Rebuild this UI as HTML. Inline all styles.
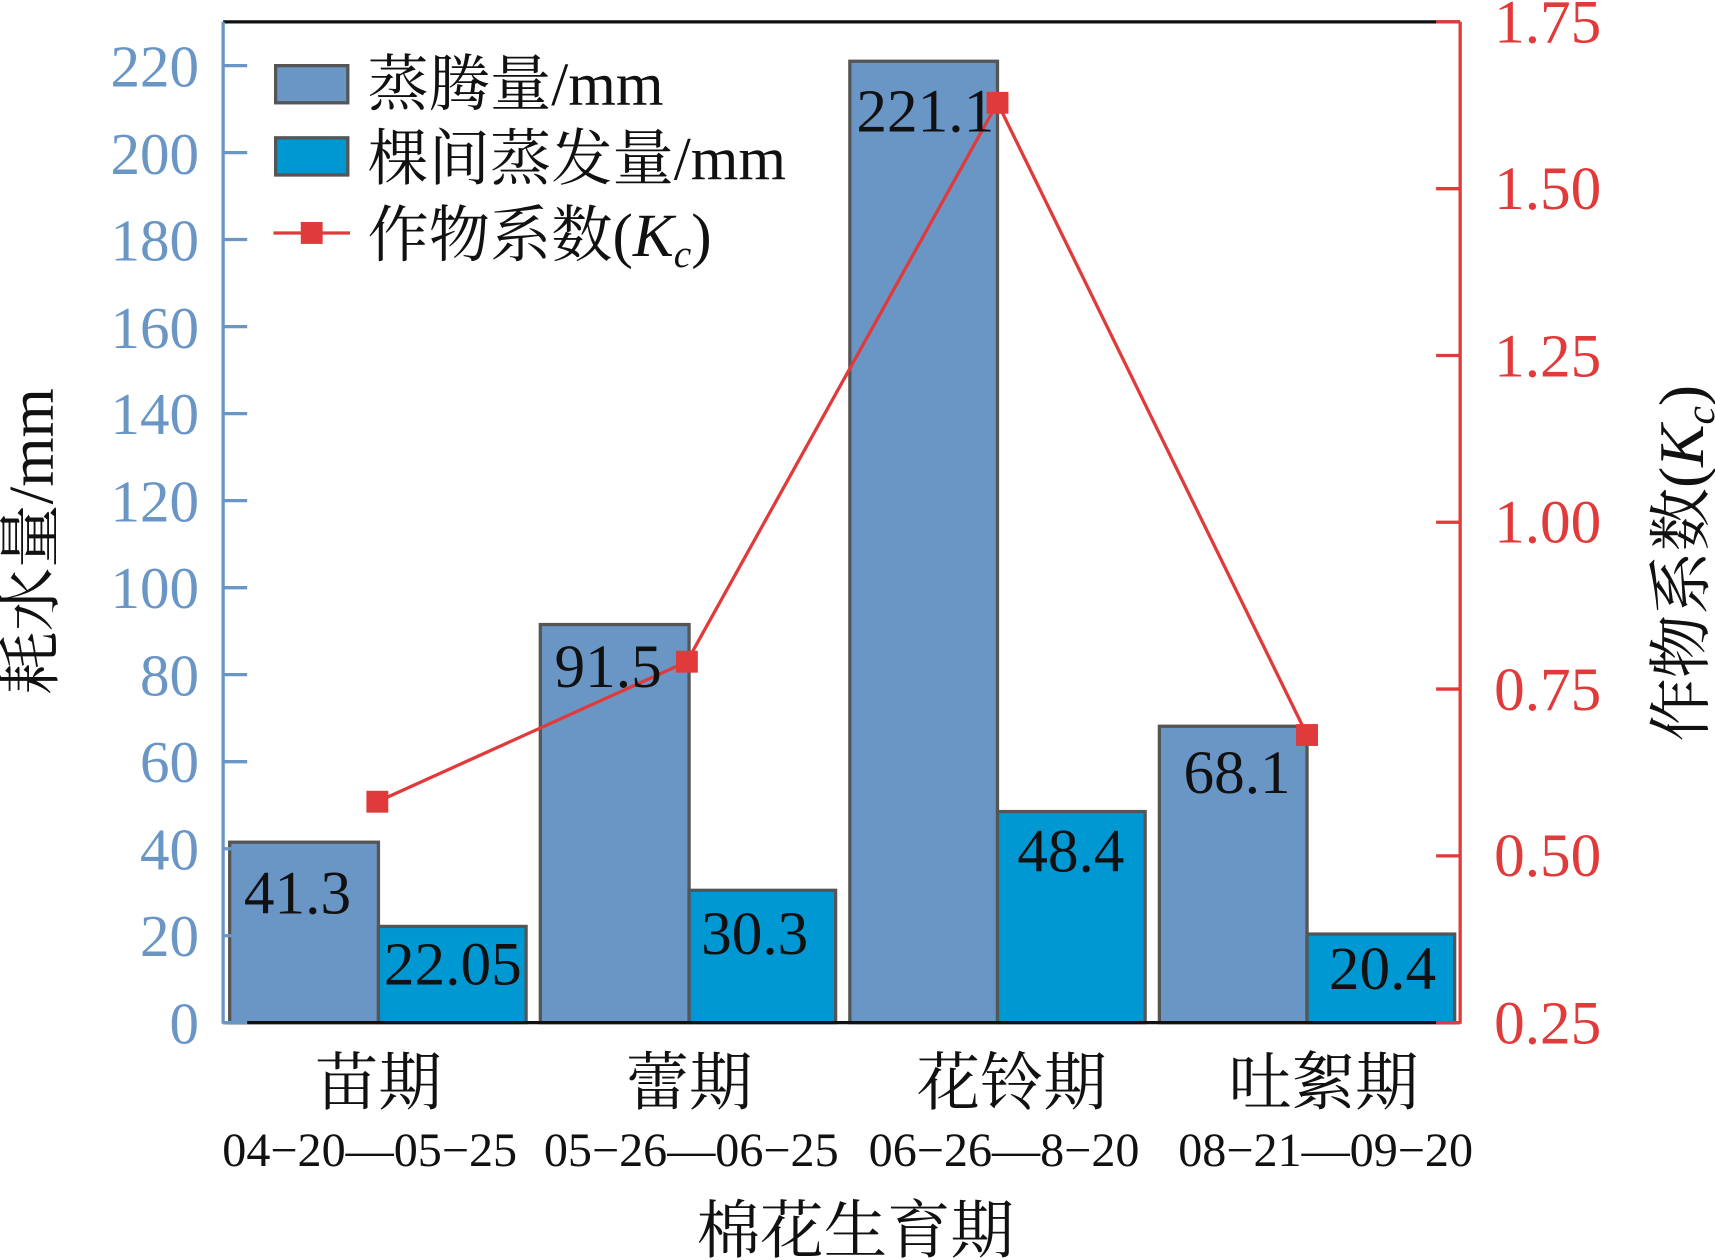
<!DOCTYPE html>
<html><head><meta charset="utf-8"><style>
html,body{margin:0;padding:0;background:#fff;}
svg{display:block;}
text{font-family:"Liberation Serif","Noto Serif CJK SC","Noto Sans CJK SC",serif;}
</style></head><body>
<svg width="1715" height="1260" viewBox="0 0 1568 1152" xmlns="http://www.w3.org/2000/svg">
<rect width="1568" height="1152" fill="#fff"/>
<g stroke="#555" stroke-width="3">
<rect x="210" y="770" width="136" height="165" fill="#6a96c6"/>
<rect x="346" y="847" width="135" height="88" fill="#0098d2"/>
<rect x="494" y="571" width="136" height="364" fill="#6a96c6"/>
<rect x="630" y="814" width="134" height="121" fill="#0098d2"/>
<rect x="777" y="56" width="135" height="879" fill="#6a96c6"/>
<rect x="912" y="742" width="135" height="193" fill="#0098d2"/>
<rect x="1060" y="664" width="135" height="271" fill="#6a96c6"/>
<rect x="1195" y="854" width="135" height="81" fill="#0098d2"/>
</g>
<line x1="204" y1="20" x2="1335" y2="20" stroke="#111" stroke-width="3"/>
<line x1="204" y1="935" x2="1335" y2="935" stroke="#111" stroke-width="3"/>
<line x1="204" y1="20" x2="204" y2="936" stroke="#6a96c6" stroke-width="3"/>
<line x1="1335" y1="20" x2="1335" y2="936" stroke="#e03a3a" stroke-width="3"/>
<g stroke="#6a96c6" stroke-width="3">
<line x1="204" y1="935" x2="226" y2="935"/><line x1="204" y1="855.5" x2="226" y2="855.5"/>
<line x1="204" y1="776" x2="226" y2="776"/><line x1="204" y1="696.4" x2="226" y2="696.4"/>
<line x1="204" y1="616.8" x2="226" y2="616.8"/><line x1="204" y1="537.3" x2="226" y2="537.3"/>
<line x1="204" y1="457.7" x2="226" y2="457.7"/><line x1="204" y1="378.2" x2="226" y2="378.2"/>
<line x1="204" y1="298.6" x2="226" y2="298.6"/><line x1="204" y1="219" x2="226" y2="219"/>
<line x1="204" y1="139.5" x2="226" y2="139.5"/><line x1="204" y1="60" x2="226" y2="60"/>
</g>
<g fill="#6a96c6" font-size="54" text-anchor="end">
<text x="182" y="954">0</text><text x="182" y="874">20</text><text x="182" y="795">40</text>
<text x="182" y="715">60</text><text x="182" y="636">80</text><text x="182" y="556">100</text>
<text x="182" y="477">120</text><text x="182" y="397">140</text><text x="182" y="318">160</text>
<text x="182" y="238">180</text><text x="182" y="159">200</text><text x="182" y="79">220</text>
</g>
<g stroke="#e03a3a" stroke-width="3">
<line x1="1313" y1="935" x2="1335" y2="935"/><line x1="1313" y1="782.5" x2="1335" y2="782.5"/>
<line x1="1313" y1="630" x2="1335" y2="630"/><line x1="1313" y1="477.5" x2="1335" y2="477.5"/>
<line x1="1313" y1="325" x2="1335" y2="325"/><line x1="1313" y1="172.5" x2="1335" y2="172.5"/>
<line x1="1313" y1="20" x2="1335" y2="20"/>
</g>
<g fill="#e03a3a" font-size="56">
<text x="1366" y="954">0.25</text><text x="1366" y="801">0.50</text><text x="1366" y="649">0.75</text>
<text x="1366" y="496">1.00</text><text x="1366" y="344">1.25</text><text x="1366" y="191">1.50</text>
<text x="1366" y="39">1.75</text>
</g>
<polyline points="345,733 628,605 912,94 1195,672" fill="none" stroke="#e03a3a" stroke-width="3"/>
<g fill="#e03a3a">
<rect x="335" y="723" width="20" height="20"/><rect x="618" y="595" width="20" height="20"/>
<rect x="902" y="84" width="20" height="20"/><rect x="1185" y="662" width="20" height="20"/>
</g>
<g fill="#111" font-size="56" text-anchor="middle">
<text x="272" y="835">41.3</text><text x="414" y="900">22.05</text>
<text x="556" y="628">91.5</text><text x="690" y="872">30.3</text>
<text x="846" y="120">221.1</text><text x="979" y="797">48.4</text>
<text x="1131" y="725">68.1</text><text x="1264" y="904">20.4</text>
</g>
<rect x="252" y="60" width="66" height="34" fill="#6a96c6" stroke="#555" stroke-width="3"/>
<rect x="252" y="126" width="66" height="34" fill="#0098d2" stroke="#555" stroke-width="3"/>
<line x1="250" y1="213" x2="320" y2="213" stroke="#e03a3a" stroke-width="3"/>
<rect x="275" y="203" width="20" height="20" fill="#e03a3a"/>
<g fill="#111" font-size="56">
<text x="336" y="96">蒸腾量/mm</text>
<text x="336" y="164">棵间蒸发量/mm</text>
<text x="336" y="234">作物系数(<tspan font-style="italic">K</tspan><tspan font-style="italic" font-size="36" dy="10">c</tspan><tspan dy="-10">)</tspan></text>
</g>
<g fill="#111" text-anchor="middle">
<g font-size="58">
<text x="346" y="1010">苗期</text><text x="630" y="1010">蕾期</text>
<text x="925" y="1010">花铃期</text><text x="1210" y="1010">吐絮期</text>
</g>
<g font-size="44">
<text x="338" y="1066">04−20—05−25</text><text x="632" y="1066">05−26—06−25</text>
<text x="918" y="1066">06−26—8−20</text><text x="1212" y="1066">08−21—09−20</text>
</g>
<text x="782" y="1145" font-size="58">棉花生育期</text>
</g>
<text transform="translate(48,495) rotate(-90)" fill="#111" font-size="58" text-anchor="middle">耗水量/mm</text>
<text transform="translate(1557,515) rotate(-90)" fill="#111" font-size="58" text-anchor="middle">作物系数(<tspan font-style="italic">K</tspan><tspan font-style="italic" font-size="38" dy="10">c</tspan><tspan dy="-10">)</tspan></text>
</svg>
</body></html>
